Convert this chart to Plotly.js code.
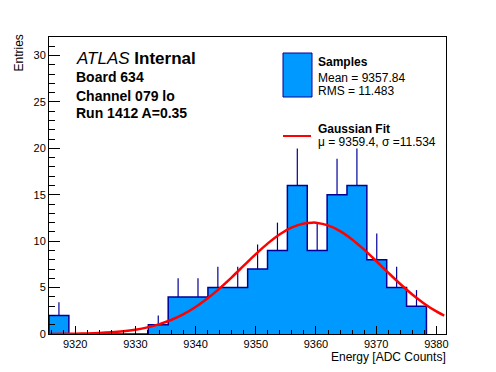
<!DOCTYPE html>
<html>
<head>
<meta charset="utf-8">
<script src="https://cdn.plot.ly/plotly-3.0.1.min.js"></script>
<style>html,body{margin:0;padding:0;background:#fff;}#chart{width:496px;height:372px;}</style>
</head>
<body>
<div id="chart"></div>
<script>
// ---- data ----
var binCenters = [9317.3, 9320.6, 9323.9, 9327.2, 9330.5, 9333.8, 9337.1, 9340.4, 9343.7, 9347.0,
                  9350.3, 9353.6, 9356.9, 9360.2, 9363.5, 9366.8, 9370.1, 9373.4, 9376.7];
var binCounts  = [2, 0, 0, 0, 0, 1, 4, 4, 5, 5, 7, 9, 16, 9, 15, 16, 8, 5, 3];
var binWidth = 3.3;

var fitX = [9315.7, 9318, 9320, 9322, 9324, 9326, 9328, 9330, 9332, 9334, 9336, 9338, 9340, 9342, 9344,
            9346, 9348, 9350, 9352, 9354, 9356, 9358, 9359.4, 9360, 9362, 9364, 9366, 9368, 9370,
            9372, 9374, 9376, 9378, 9380, 9381.3];
var fitY = [0.01, 0.02, 0.035, 0.063, 0.108, 0.181, 0.295, 0.466, 0.714, 1.062, 1.533, 2.147, 2.916, 3.845, 4.921,
            6.110, 7.363, 8.609, 9.768, 10.754, 11.490, 11.912, 12.0, 11.984, 11.699, 11.083, 10.188, 9.088, 7.867,
            6.608, 5.386, 4.260, 3.270, 2.435, 1.99];

var xTickVals = [9320, 9330, 9340, 9350, 9360, 9370, 9380];
var xTickText = ["9320", "9330", "9340", "9350", "9360", "9370", "9380"];
var yTickVals = [0, 5, 10, 15, 20, 25, 30];
var yTickText = ["0", "5", "10", "15", "20", "25", "30"];

var statsMean = "9357.84", statsRMS = "11.483";
var fitMu = "9359.4", fitSigma = "11.534";

// ---- derived ----
var edges = binCenters.map(function (c) { return c - binWidth / 2; });
edges.push(binCenters[binCenters.length - 1] + binWidth / 2);
var stepX = [edges[0]].concat(edges.slice(0, binCounts.length)).concat([edges[edges.length - 1], edges[edges.length - 1]]);
var stepY = [0].concat(binCounts).concat([binCounts[binCounts.length - 1], 0]);
var errUp = binCounts.map(function (v) { return Math.sqrt(v); });
var errDn = binCounts.map(function () { return 0; });

// ---- layout helpers (pixel -> paper) ----
var W = 496, H = 372, L = 49, R = 50, T = 37, B = 38;
var PW = W - L - R, PH = H - T - B;
function px(x) { return (x - L) / PW; }
function py(y) { return (H - B - y) / PH; }

var FONT = "Liberation Sans, Arial, Helvetica, sans-serif";
var navy = "#000099", fill = "#0099ff";

var traces = [
  { type: "bar", x: binCenters, y: binCounts, width: binWidth,
    marker: { color: fill, line: { width: 0 } }, hoverinfo: "skip", showlegend: false },
  { type: "scatter", mode: "lines", x: stepX, y: stepY,
    line: { color: navy, width: 1.5, shape: "hv" }, hoverinfo: "skip", showlegend: false },
  { type: "scatter", mode: "markers", x: binCenters, y: binCounts,
    marker: { size: 1, opacity: 0 },
    error_y: { type: "data", array: errUp, arrayminus: errDn, symmetric: false, width: 0, thickness: 1.2, color: navy },
    hoverinfo: "skip", showlegend: false },
  { type: "scatter", mode: "lines", x: fitX, y: fitY,
    line: { color: "#ff0000", width: 2.5, shape: "spline" }, hoverinfo: "skip", showlegend: false }
];

function ann(text, x, y, size, opts) {
  var a = { text: text, xref: "paper", yref: "paper", x: px(x), y: py(y), showarrow: false,
            xanchor: "left", yanchor: "middle", font: { family: FONT, size: size, color: "#000" } };
  if (opts) for (var k in opts) a[k] = opts[k];
  return a;
}

var layout = {
  width: W, height: H,
  margin: { l: L, r: R, t: T, b: B, pad: 0 },
  paper_bgcolor: "#fff", plot_bgcolor: "#fff",
  showlegend: false,
  bargap: 0,
  font: { family: FONT, size: 11, color: "#000" },
  xaxis: {
    range: [9315.65, 9381.6], tickvals: xTickVals, ticktext: xTickText,
    ticks: "inside", ticklen: 8, tickwidth: 1, tickcolor: "#000",
    minor: { dtick: 2, tick0: 9320, ticks: "inside", ticklen: 4, tickcolor: "#000", showgrid: false },
    showline: true, linecolor: "#000", linewidth: 1, mirror: true,
    showgrid: false, zeroline: false, tickfont: { family: FONT, size: 11 }
  },
  yaxis: {
    range: [0, 32], tickvals: yTickVals, ticktext: yTickText,
    ticks: "inside", ticklen: 11, tickwidth: 1, tickcolor: "#000",
    minor: { dtick: 1, tick0: 0, ticks: "inside", ticklen: 6, tickcolor: "#000", showgrid: false },
    showline: true, linecolor: "#000", linewidth: 1, mirror: true,
    showgrid: false, zeroline: false, tickfont: { family: FONT, size: 11 }
  },
  shapes: [
    { type: "rect", xref: "paper", yref: "paper", x0: px(283), x1: px(312), y0: py(97), y1: py(53),
      fillcolor: fill, line: { color: navy, width: 1 } },
    { type: "line", xref: "paper", yref: "paper", x0: px(283), x1: px(311), y0: py(136), y1: py(136),
      line: { color: "#ff0000", width: 2 } }
  ],
  annotations: [
    ann("<i>ATLAS</i> <b>Internal</b>", 74, 58, 17),
    ann("<b>Board 634</b>", 74, 77, 14),
    ann("<b>Channel 079 lo</b>", 74, 95.5, 14),
    ann("<b>Run 1412 A=0.35</b>", 74, 113, 14),
    ann("<b>Samples</b>", 316, 62, 12),
    ann("Mean = " + statsMean, 316, 77.5, 12),
    ann("RMS = " + statsRMS, 316, 91, 12),
    ann("<b>Gaussian Fit</b>", 316, 129, 12),
    ann("\u03bc = " + fitMu + ", \u03c3 =" + fitSigma, 316, 142, 12),
    ann("Energy [ADC Counts]", 447, 357, 12, { xanchor: "right", borderpad: 0 }),
    ann("Entries", 18, 33, 12, { xanchor: "center", yanchor: "top", textangle: -90 })
  ]
};

Plotly.newPlot("chart", traces, layout, { displayModeBar: false, staticPlot: true });
</script>
</body>
</html>
